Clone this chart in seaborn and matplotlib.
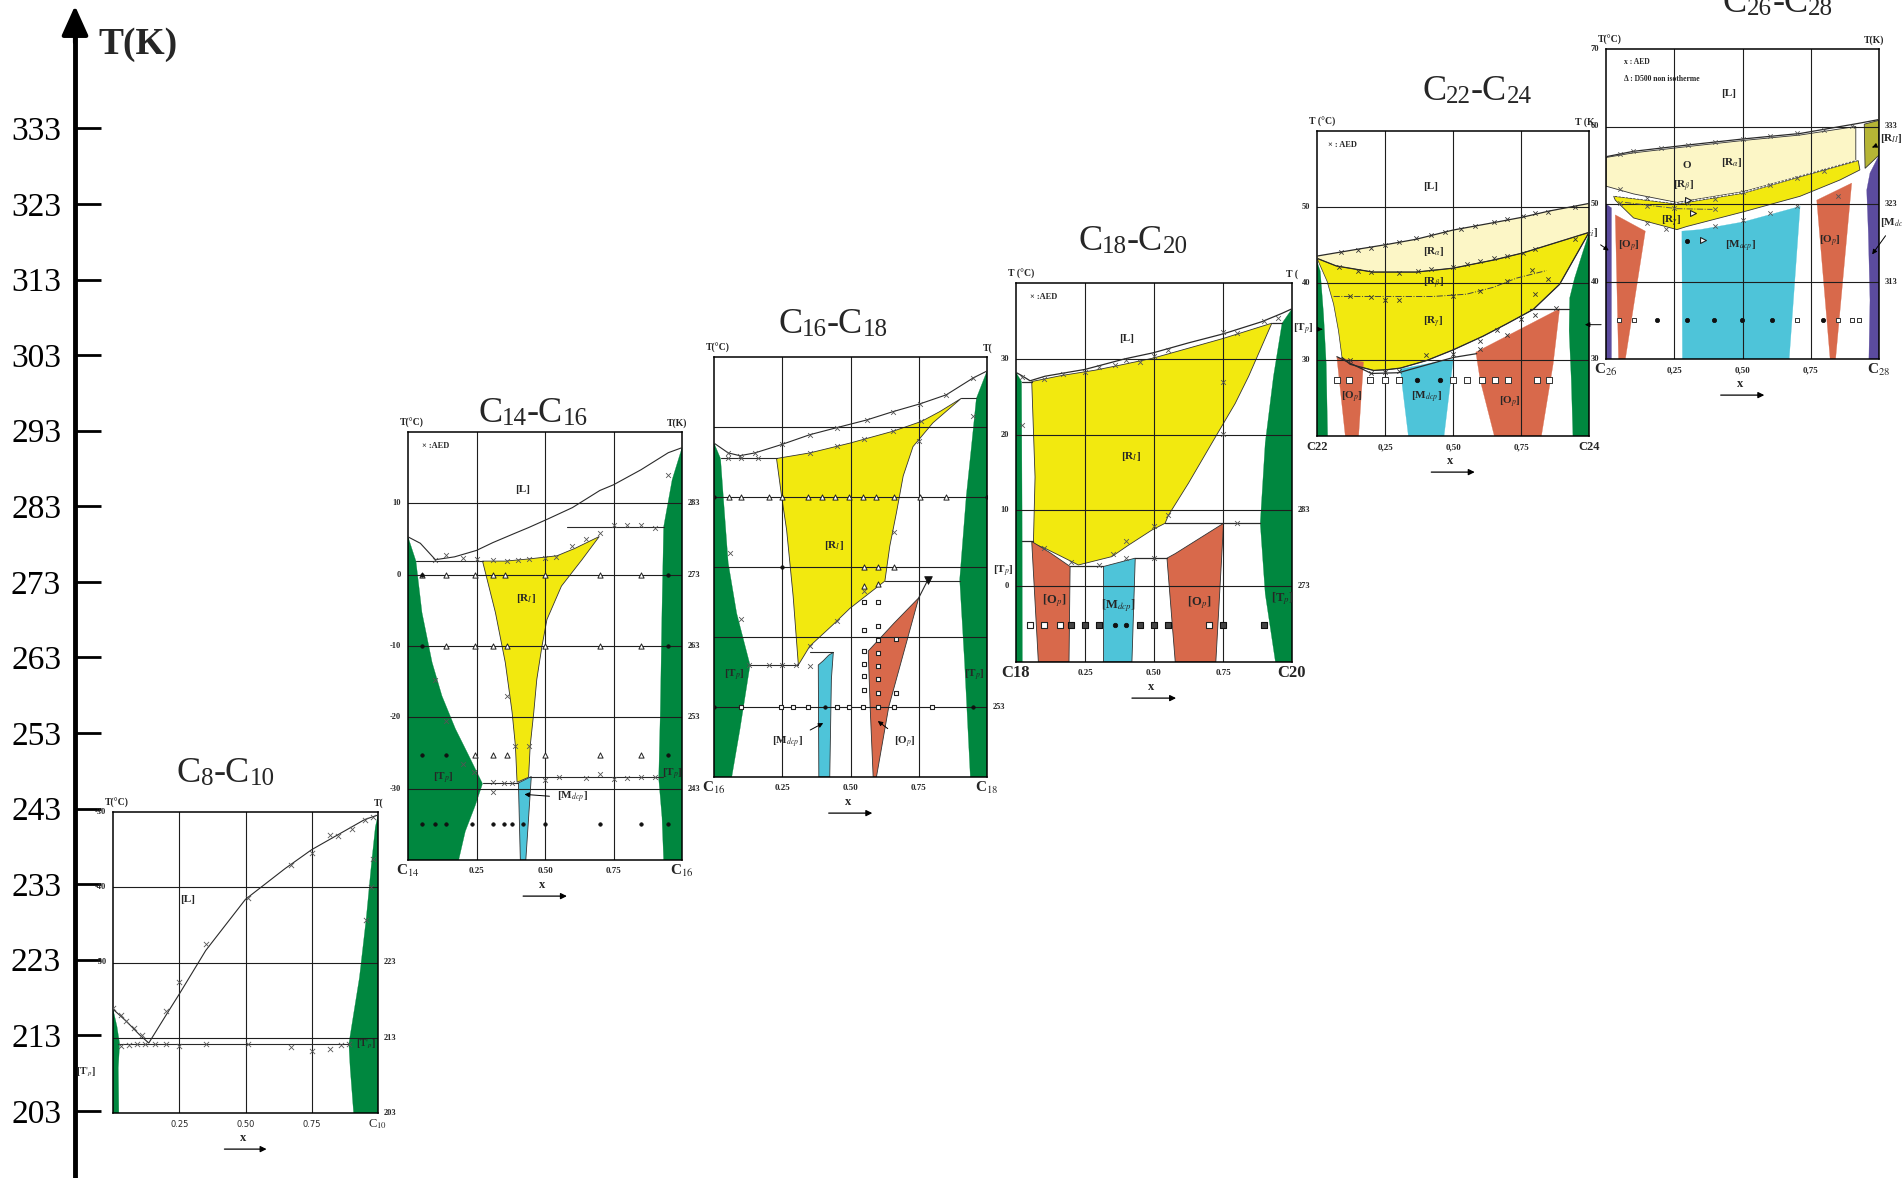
import matplotlib
matplotlib.use("Agg")
import matplotlib.pyplot as plt
from matplotlib.transforms import offset_copy
from matplotlib.patches import Rectangle
import seaborn as sns

sns.set_theme(style="white")
plt.rcParams["font.family"] = ["Liberation Serif", "DejaVu Serif"]
plt.rcParams["mathtext.fontset"] = "stix"

W, H, DPI = 1902, 1178, 100

# ---------------- main temperature scale (K) ----------------
K_TICKS = [203, 213, 223, 233, 243, 253, 263, 273, 283, 293, 303, 313, 323, 333]
K_LIMITS = (194.1, 350.0)

GREEN = "#00873f"
YELLOW = "#f2e90f"
PALE = "#fcf6c6"
CYAN = "#4ec4d9"
ORANGE = "#d8694b"
PURPLE = "#5b4b9e"
OLIVE = "#b6b535"

# ---------------- C8-C10 (T in degC, x = mole fraction) ----------------
C8_LIQUIDUS = [(0, -56.2), (0.05, -57.8), (0.10, -59.6), (0.135, -60.7), (0.20, -57.0),
               (0.25, -54.2), (0.35, -48.4), (0.50, -41.6), (0.65, -37.5), (0.75, -35.0),
               (0.85, -33.0), (0.95, -31.0), (1.0, -30.4)]
C8_EUTECTIC = [(0.02, -60.8), (0.89, -60.8)]
C8_SS_LEFT = [(0, -56.2), (0.015, -58.5), (0.025, -60.8), (0.02, -64), (0.022, -70), (0, -70)]
C8_SS_RIGHT = [(1.0, -30.4), (0.99, -32), (0.975, -37), (0.956, -44), (0.93, -52),
               (0.89, -60.8), (0.895, -64), (0.908, -70), (1.0, -70)]
C8_CROSSES = [(0, -56.0), (0.03, -57.0), (0.05, -57.8), (0.08, -58.7), (0.11, -59.6),
              (0.20, -56.4), (0.25, -52.6), (0.35, -47.5), (0.51, -41.4), (0.67, -37.0),
              (0.75, -35.5), (0.82, -33.0), (0.85, -33.2), (0.90, -32.3), (0.95, -31.0),
              (0.98, -30.6), (0.03, -61.1), (0.06, -60.9), (0.09, -60.8), (0.12, -60.8),
              (0.16, -60.8), (0.20, -60.8), (0.25, -61.1), (0.35, -60.8), (0.51, -60.8),
              (0.67, -61.2), (0.75, -61.7), (0.82, -61.5), (0.86, -61.0), (0.89, -60.8),
              (0.98, -36.3), (0.975, -40.0), (0.955, -44.3)]
C8_NOTES = [("[L]", 0.28, -41.6, 8, "center"), ("[T$'_p$]", 0.955, -60.9, 7, "center"),
            ("[T$'_p$]", -0.10, -64.6, 7, "center")]
C8_LEFT = [-30, -40, -50]
C8_RIGHT = [(-50, "223"), (-60, "213"), (-70, "203")]
C8_BOTTOM = [(0.25, "0.25"), (0.5, "0.50"), (0.75, "0.75"), (1.0, "C$_{10}$")]

# ---------------- C14-C16 ----------------
C14_LIQUIDUS = [(0, 5.3), (0.045, 4.4), (0.10, 2.1), (0.17, 2.5), (0.25, 3.4), (0.31, 4.5),
                (0.39, 5.8), (0.44, 6.6), (0.51, 7.8), (0.60, 9.4), (0.70, 11.8), (0.75, 12.6),
                (0.85, 14.7), (0.95, 17.1), (1.0, 17.8)]
C14_EUTECTIC = [(0.03, 1.9), (0.272, 1.9)]
C14_PERITECTIC = [(0.58, 6.7), (0.933, 6.7)]
C14_LOW_A = [(0.272, -29.2), (0.40, -29.2)]
C14_LOW_B = [(0.44, -28.3), (0.93, -28.3)]
C14_RI = [(0.272, 1.9), (0.355, 1.9), (0.44, 2.2), (0.544, 2.65), (0.61, 3.7), (0.698, 5.35),
          (0.635, 2.1), (0.56, -1.6), (0.507, -6.3), (0.489, -10), (0.47, -14.7), (0.459, -19.3),
          (0.446, -24), (0.44, -28.4), (0.398, -29.1), (0.392, -24), (0.38, -19.3),
          (0.355, -12.3), (0.319, -5.3)]
C14_MDCP = [(0.403, -29.2), (0.45, -28.3), (0.43, -40), (0.41, -40)]
C14_SS_LEFT = [(0, 5.3), (0.029, 1.9), (0.051, -5.3), (0.088, -12.3), (0.124, -17),
               (0.173, -21.6), (0.221, -25.3), (0.272, -29.3), (0.246, -32.3), (0.209, -36),
               (0.185, -40), (0, -40)]
C14_SS_RIGHT = [(1, 17.8), (0.964, 13.3), (0.933, 6.7), (0.927, -5), (0.921, -19),
                (0.915, -28.6), (0.927, -34), (0.933, -40), (1, -40)]
C14_CROSSES = [(0.1, 2.0), (0.14, 2.8), (0.2, 2.4), (0.25, 2.2), (0.31, 2.0), (0.36, 1.9),
               (0.4, 2.0), (0.44, 2.2), (0.5, 2.4), (0.54, 2.5), (0.6, 4.0), (0.65, 5.0),
               (0.7, 5.8), (0.75, 6.9), (0.8, 7.0), (0.85, 6.9), (0.9, 6.5), (0.95, 14.0),
               (0.1, -14.8), (0.14, -20.5), (0.36, -17), (0.39, -24), (0.44, -24),
               (0.2, -26.5), (0.24, -27.6), (0.31, -29.0), (0.35, -29.2), (0.38, -29.2),
               (0.5, -28.8), (0.55, -28.3), (0.65, -28.5), (0.7, -28.0), (0.75, -28.6),
               (0.8, -28.5), (0.85, -28.3), (0.9, -28.4), (0.31, -30.5)]
C14_TRIANGLES = [(0.05, 0), (0.14, 0), (0.245, 0), (0.31, 0), (0.355, 0), (0.5, 0), (0.7, 0),
                 (0.85, 0), (0.14, -10), (0.245, -10), (0.31, -10), (0.36, -10), (0.5, -10),
                 (0.7, -10), (0.85, -10), (0.245, -25.3), (0.31, -25.3), (0.36, -25.3),
                 (0.5, -25.3), (0.7, -25.3), (0.85, -25.3)]
C14_DOTS = [(0.05, -25.3), (0.14, -25.3), (0.95, -25.3), (0.05, -34.9), (0.1, -34.9),
            (0.14, -34.9), (0.235, -34.9), (0.31, -34.9), (0.35, -34.9), (0.38, -34.9),
            (0.42, -34.9), (0.5, -34.9), (0.7, -34.9), (0.85, -34.9), (0.95, -34.9),
            (0.05, 0), (0.95, 0), (0.05, -10), (0.95, -10)]
C14_NOTES = [("\u00d7 :AED", 0.05, 18.1, 6, "left"), ("[L]", 0.42, 11.9, 8, "center"),
             ("[R$_I$]", 0.43, -3.3, 8, "center"), ("[T$_p$]", 0.13, -28.6, 8, "center"),
             ("[T$_p$]", 0.965, -28.0, 8, "center")]
C14_POINTERS = [("[M$_{dcp}$]", 0.6, -31.3, 0.425, -30.8, "center")]
C14_LEFT = [10, 0, -10, -20, -30]
C14_RIGHT = [(10, "283"), (0, "273"), (-10, "263"), (-20, "253"), (-30, "243")]
C14_BOTTOM = [(0, "C$_{14}$"), (0.25, "0.25"), (0.5, "0.50"), (0.75, "0.75"), (1.0, "C$_{16}$")]

# ---------------- C16-C18 ----------------
C16_LIQUIDUS = [(0, 17.7), (0.052, 16.3), (0.095, 15.9), (0.15, 16.3), (0.248, 17.5),
                (0.351, 18.9), (0.449, 19.9), (0.559, 21.0), (0.656, 22.2), (0.754, 23.3),
                (0.851, 24.6), (0.949, 27.0), (1.0, 28.0)]
C16_EUTECTIC = [(0.024, 15.5), (0.229, 15.5)]
C16_PERITECTIC = [(0.906, 24.1), (0.961, 24.1)]
C16_RI = [(0.229, 15.5), (0.351, 16.3), (0.498, 17.7), (0.656, 19.4), (0.76, 20.8),
          (0.827, 22.2), (0.906, 24.1), (0.802, 20.6), (0.729, 17.2), (0.693, 13.0),
          (0.668, 7.7), (0.644, 3.0), (0.626, -2.0), (0.498, -5.9), (0.437, -8.2),
          (0.351, -11.3), (0.309, -14.0), (0.29, -4.2), (0.266, 5.3), (0.248, 10.0)]
C16_LINE_A = [(0.626, -2.0), (0.90, -2.0)]
C16_LINE_B = [(0.132, -14.0), (0.309, -14.0)]
C16_LINE_C = [(0.351, -12.2), (0.437, -12.2)]
C16_MDCP = [(0.382, -14.0), (0.40, -13.4), (0.42, -12.6), (0.437, -12.2), (0.43, -16.0),
            (0.424, -30.0), (0.384, -30.0)]
C16_OP = [(0.565, -12.0), (0.66, -8.0), (0.75, -4.4), (0.64, -20.0), (0.595, -30.0),
          (0.583, -30.0), (0.572, -20.0)]
C16_OP_TIE = [(0.75, -4.4), (0.784, -1.8)]
C16_SS_LEFT = [(0, 17.7), (0.024, 15.5), (0.034, 10.1), (0.052, 0.6), (0.083, -6.6),
               (0.132, -14.0), (0.095, -23.2), (0.065, -30.0), (0, -30.0)]
C16_SS_RIGHT = [(1.0, 28.0), (0.961, 24.1), (0.943, 17.2), (0.924, 10.1), (0.90, -1.8),
                (0.918, -13.7), (0.939, -30.0), (1.0, -30.0)]
C16_CROSSES = [(0.052, 16.3), (0.095, 15.9), (0.15, 16.3), (0.248, 17.5), (0.351, 18.9),
               (0.449, 19.9), (0.559, 21.0), (0.656, 22.2), (0.754, 23.3), (0.851, 24.6),
               (0.949, 27.0), (0.05, 15.5), (0.1, 15.5), (0.16, 15.5), (0.35, 16.3),
               (0.45, 17.3), (0.55, 18.3), (0.656, 19.4), (0.76, 20.8), (0.95, 21.5),
               (0.06, 2.0), (0.1, -7.5), (0.66, 5.0), (0.75, 18.0), (0.55, -3.5),
               (0.45, -7.7), (0.35, -11.3), (0.13, -14.0), (0.2, -14.0), (0.25, -14.0),
               (0.3, -14.0), (0.35, -14.2)]
C16_TRIANGLES = [(0.055, 10), (0.1, 10), (0.2, 10), (0.25, 10), (0.345, 10), (0.395, 10),
                 (0.445, 10), (0.495, 10), (0.545, 10), (0.595, 10), (0.66, 10),
                 (0.755, 10), (0.85, 10), (0.55, 0), (0.6, 0), (0.66, 0), (0.55, -2.7),
                 (0.6, -2.4)]
C16_SQUARES = [(0.55, -5), (0.55, -9), (0.55, -12), (0.55, -13.8), (0.55, -15.6),
               (0.55, -17.6), (0.6, -5), (0.6, -8.5), (0.6, -10.5), (0.6, -12.3),
               (0.6, -14.1), (0.6, -16.0), (0.6, -18.0), (0.665, -10.3), (0.665, -18.0),
               (0.1, -20), (0.245, -20), (0.29, -20), (0.345, -20), (0.45, -20),
               (0.495, -20), (0.545, -20), (0.6, -20), (0.66, -20), (0.8, -20)]
C16_DOTS = [(0.0, -20), (0.405, -20), (0.95, -20), (0.25, 0), (0.0, 10), (1.0, 10)]
C16_NOTES = [("[R$_I$]", 0.44, 3.0, 8, "center"), ("[T$_p$]", 0.075, -15.5, 8, "center"),
             ("[T$_p$]", 0.955, -15.5, 8, "center")]
C16_POINTERS = [("[M$_{dcp}$]", 0.27, -25.0, 0.40, -22.3, "center"),
                ("[O$_p$]", 0.70, -25.0, 0.60, -22.0, "center")]
C16_LEFT = []
C16_RIGHT = [(-20, "253")]
C16_BOTTOM = [(0, "C$_{16}$"), (0.25, "0.25"), (0.5, "0.50"), (0.75, "0.75"), (1.0, "C$_{18}$")]

# ---------------- C18-C20 ----------------
C18_LIQUIDUS = [(0, 28.2), (0.02, 27.8), (0.051, 27.1), (0.105, 27.7), (0.25, 28.6),
                (0.395, 30.0), (0.498, 30.8), (0.625, 32.1), (0.752, 33.3), (0.891, 34.9),
                (0.964, 36.0), (1.0, 36.6)]
C18_EUTECTIC = [(0.02, 27.0), (0.057, 27.0)]
C18_PERITECTIC = [(0.927, 34.7), (0.964, 34.7)]
C18_RI = [(0.057, 27.0), (0.166, 27.8), (0.287, 28.5), (0.395, 29.3), (0.498, 30.1),
          (0.625, 31.4), (0.752, 32.7), (0.927, 34.7), (0.843, 27.7), (0.794, 24.1),
          (0.71, 18.9), (0.625, 13.6), (0.553, 9.4), (0.54, 8.3), (0.492, 7.4),
          (0.407, 5.4), (0.347, 3.9), (0.226, 2.8), (0.166, 3.9), (0.105, 5.0),
          (0.063, 5.6), (0.069, 14.4)]
C18_LINE_A = [(0.54, 8.3), (0.885, 8.3)]
C18_LINE_B = [(0.02, 5.9), (0.063, 5.9)]
C18_LINE_C = [(0.196, 2.6), (0.317, 2.6)]
C18_LINE_D = [(0.432, 3.7), (0.547, 3.7)]
C18_OP_LEFT = [(0.057, 5.9), (0.12, 4.5), (0.196, 2.6), (0.192, -10), (0.081, -10)]
C18_MDCP = [(0.317, 2.6), (0.432, 3.7), (0.42, -10), (0.317, -10)]
C18_OP_RIGHT = [(0.547, 3.7), (0.577, 4.3), (0.752, 8.3), (0.724, -10), (0.577, -10)]
C18_SS_LEFT = [(0, 28.2), (0.02, 27.0), (0.022, 10), (0.023, -10), (0, -10)]
C18_SS_RIGHT = [(1.0, 36.6), (0.964, 34.7), (0.933, 27.7), (0.903, 18.9), (0.885, 8.3),
                (0.903, -1.0), (0.94, -10), (1.0, -10)]
C18_CROSSES = [(0.02, 27.6), (0.1, 27.4), (0.17, 28.0), (0.25, 28.2), (0.3, 28.9),
               (0.36, 29.2), (0.4, 29.8), (0.45, 29.6), (0.5, 30.4), (0.55, 31.2),
               (0.75, 33.5), (0.8, 33.4), (0.9, 35.0), (0.95, 35.4), (0.02, 21.3),
               (0.75, 27.0), (0.75, 20.1), (0.55, 9.4), (0.5, 8.0), (0.4, 6.0), (0.35, 4.2),
               (0.3, 2.8), (0.2, 3.2), (0.1, 5.0), (0.4, 3.7), (0.5, 3.7), (0.8, 8.3)]
C18_OPEN_SQ = [(0.05, -5.1), (0.1, -5.1), (0.16, -5.1), (0.7, -5.1)]
C18_DARK_SQ = [(0.2, -5.1), (0.25, -5.1), (0.3, -5.1), (0.45, -5.1), (0.5, -5.1),
               (0.55, -5.1), (0.75, -5.1), (0.9, -5.1)]
C18_DOTS = [(0.36, -5.1), (0.4, -5.1)]
C18_NOTES = [("\u00d7 :AED", 0.05, 38.2, 6, "left"), ("[L]", 0.4, 32.7, 8, "center"),
             ("[R$_I$]", 0.415, 17.1, 8, "center"), ("[O$_p$]", 0.14, -1.9, 9, "center"),
             ("[M$_{dcp}$]", 0.37, -2.5, 9, "center"), ("[O$_p$]", 0.665, -2.2, 9, "center"),
             ("[T$_p$]", 0.965, -1.7, 9, "center"), ("[T$_p$]", -0.045, 1.9, 8, "center")]
C18_POINTERS = []
C18_LEFT = [30, 20, 10, 0]
C18_RIGHT = [(10, "283"), (0, "273")]
C18_BOTTOM = [(0, "C18"), (0.25, "0.25"), (0.5, "0.50"), (0.75, "0.75"), (1.0, "C20")]

# ---------------- C22-C24 ----------------
C22_LIQUIDUS = [(0, 43.6), (0.15, 44.5), (0.254, 45.1), (0.364, 45.8), (0.499, 47.0),
                (0.652, 48.0), (0.756, 48.7), (0.853, 49.5), (1.0, 50.5)]
C22_RA_LOW = [(0, 43.3), (0.071, 42.3), (0.205, 41.5), (0.364, 41.5), (0.499, 42.0),
              (0.652, 43.1), (0.756, 44.0), (1.0, 46.7)]
C22_YELLOW_LOW = [(0.092, 30.3), (0.122, 29.4), (0.208, 28.6), (0.257, 28.7), (0.306, 28.9),
                  (0.403, 29.9), (0.501, 31.3), (0.611, 33.1), (0.697, 34.7), (0.795, 36.6),
                  (0.892, 39.9), (1.0, 46.7)]
C22_YELLOW_LEFT = [(0.092, 30.3), (0.079, 33.8), (0.061, 37.3), (0.037, 40.3), (0, 43.3)]
C22_DASHDOT = [(0.061, 38.3), (0.183, 38.3), (0.306, 38.3), (0.428, 38.3), (0.55, 38.6),
               (0.648, 39.5), (0.733, 40.7), (0.844, 41.7)]
C22_LOWER = [(0.073, 30.4), (0.2, 28.2), (0.3, 28.3), (0.501, 30.3), (0.587, 30.8)]
C22_LINE_A = [(0.782, 36.7), (0.927, 36.7)]
C22_OP_LEFT = [(0.073, 30.3), (0.171, 29.7), (0.153, 20), (0.104, 20)]
C22_MDCP = [(0.306, 28.8), (0.501, 30.1), (0.467, 20), (0.336, 20)]
C22_OP_RIGHT = [(0.584, 31.0), (0.892, 36.7), (0.868, 29.4), (0.825, 20), (0.652, 20), (0.6, 27.3)]
C22_SS_LEFT = [(0, 42.9), (0.012, 41.6), (0.024, 36.0), (0.034, 29.4), (0.039, 20), (0, 20)]
C22_SS_RIGHT = [(1.0, 46.6), (0.978, 44.2), (0.947, 40.7), (0.929, 38.1), (0.927, 33.8),
                (0.935, 27.3), (0.941, 20), (1.0, 20)]
C22_CROSSES = [(0.087, 44.1), (0.15, 44.4), (0.2, 44.6), (0.25, 45.0), (0.3, 45.4),
               (0.364, 46.0), (0.42, 46.4), (0.47, 46.8), (0.53, 47.2), (0.58, 47.5),
               (0.65, 48.0), (0.7, 48.4), (0.756, 48.8), (0.8, 49.2), (0.85, 49.4),
               (0.95, 50.0), (0.08, 42.1), (0.15, 41.7), (0.2, 41.5), (0.3, 41.4),
               (0.37, 41.6), (0.42, 41.9), (0.5, 42.2), (0.55, 42.5), (0.6, 42.9),
               (0.65, 43.3), (0.7, 43.6), (0.756, 44.0), (0.8, 44.5), (0.95, 45.8),
               (0.12, 38.3), (0.2, 38.2), (0.25, 37.9), (0.3, 37.8), (0.5, 38.3),
               (0.6, 39.0), (0.7, 40.3), (0.79, 41.8), (0.85, 40.6), (0.8, 38.6),
               (0.12, 30.0), (0.2, 28.3), (0.25, 28.4), (0.3, 28.5), (0.4, 30.6),
               (0.5, 30.7), (0.6, 31.4), (0.66, 33.9), (0.7, 33.3), (0.6, 32.4),
               (0.75, 35.4), (0.8, 35.9), (0.88, 36.8)]
C22_OPEN_SQ = [(0.073, 27.3), (0.116, 27.3), (0.196, 27.3), (0.251, 27.3), (0.3, 27.3),
               (0.501, 27.3), (0.55, 27.3), (0.605, 27.3), (0.654, 27.3), (0.703, 27.3),
               (0.807, 27.3), (0.853, 27.3)]
C22_DOTS = [(0.367, 27.3), (0.452, 27.3)]
C22_NOTES = [("\u00d7 : AED", 0.04, 58.1, 6, "left"), ("[L]", 0.416, 52.7, 8, "center"),
             ("[R$_\\alpha$]", 0.428, 44.2, 8, "center"), ("[R$_\\beta$]", 0.428, 40.0, 8, "center"),
             ("[R$_\\gamma$]", 0.428, 34.9, 8, "center"), ("[O$_p$]", 0.128, 25.0, 8, "center"),
             ("[M$_{dcp}$]", 0.403, 25.1, 8, "center"), ("[O$_p$]", 0.709, 24.4, 8, "center")]
C22_POINTERS = [("[T$_p$]", -0.012, 34.0, 0.02, 34.0, "right"),
                ("", 1.06, 34.6, 0.985, 34.6, "center")]
C22_LEFT = [50, 40, 30]
C22_RIGHT = []
C22_BOTTOM = [(0, "C22"), (0.25, "0,25"), (0.5, "0,50"), (0.75, "0,75"), (1.0, "C24")]

# ---------------- C26-C28 ----------------
C26_LIQUIDUS = [(0, 56.1), (0.101, 56.8), (0.296, 57.6), (0.504, 58.4), (0.711, 59.1),
                (0.924, 60.4), (1.0, 60.9)]
C26_PALE = [(0, 56.0), (0.101, 56.6), (0.296, 57.4), (0.504, 58.2), (0.711, 58.9),
            (0.915, 60.0), (0.915, 55.6), (0.711, 53.6), (0.504, 51.6), (0.26, 50.2),
            (0.101, 51.3), (0, 52.3)]
C26_YELLOW = [(0.028, 51.0), (0.26, 50.0), (0.504, 51.4), (0.711, 53.5), (0.924, 55.6),
              (0.93, 54.4), (0.857, 53.1), (0.711, 51.0), (0.504, 49.0), (0.296, 47.1),
              (0.26, 46.7), (0.101, 48.2), (0.034, 50.5)]
C26_YELLOW_TOP = [(0.028, 51.1), (0.26, 50.1), (0.504, 51.5), (0.711, 53.6), (0.924, 55.7)]
C26_OLIVE = [(0.946, 60.3), (1.0, 60.8), (1.0, 56.3), (0.949, 54.6)]
C26_DASHDOT = [(0.07, 50.2), (0.26, 49.4), (0.39, 49.3)]
C26_OP_LEFT = [(0.034, 48.6), (0.144, 46.5), (0.071, 30), (0.046, 30)]
C26_MDCP = [(0.278, 46.5), (0.345, 46.7), (0.504, 47.7), (0.711, 49.7), (0.671, 30), (0.28, 30)]
C26_OP_RIGHT = [(0.772, 50.5), (0.9, 52.7), (0.841, 30), (0.821, 30)]
C26_MDCI_LEFT = [(0, 50.0), (0.02, 49.5), (0.02, 30), (0, 30)]
C26_MDCI_RIGHT = [(1.0, 56.3), (0.967, 54.0), (0.955, 51.8), (0.961, 46.2), (0.967, 37.6),
                  (0.963, 30), (1.0, 30)]
C26_CROSSES = [(0.05, 56.4), (0.1, 56.8), (0.2, 57.2), (0.3, 57.6), (0.4, 58.0), (0.5, 58.4),
               (0.6, 58.8), (0.7, 59.1), (0.8, 59.6), (0.9, 60.1), (0.05, 51.9), (0.15, 50.8),
               (0.3, 50.1), (0.4, 50.7), (0.5, 51.5), (0.6, 52.4), (0.7, 53.3), (0.8, 54.3),
               (0.05, 50.1), (0.15, 49.8), (0.25, 49.5), (0.4, 49.3), (0.15, 47.6),
               (0.22, 46.8), (0.4, 47.1), (0.5, 47.9), (0.6, 48.8), (0.7, 49.8), (0.85, 51.0)]
C26_DARK = [(0.187, 35), (0.296, 35), (0.396, 35), (0.498, 35), (0.607, 35), (0.796, 35),
            (0.296, 45.2)]
C26_OPEN_SQ = [(0.046, 35), (0.101, 35), (0.699, 35), (0.851, 35), (0.9, 35), (0.927, 35)]
C26_OPEN_TRI = [(0.3, 50.5), (0.32, 48.8), (0.355, 45.3)]
C26_NOTES = [("x : AED", 0.065, 68.3, 5.5, "left"),
             ("\u0394 : D500 non isotherme", 0.065, 66.1, 5.5, "left"),
             ("[L]", 0.449, 64.2, 8, "center"), ("O", 0.296, 55.0, 8, "center"),
             ("[R$_\\alpha$]", 0.46, 55.4, 8, "center"), ("[R$_\\beta$]", 0.284, 52.3, 8, "center"),
             ("[R$_\\gamma$]", 0.24, 47.7, 8, "center"), ("[O$_p$]", 0.083, 44.5, 8, "center"),
             ("[M$_{dcp}$]", 0.491, 44.5, 8, "center"), ("[O$_p$]", 0.821, 45.2, 8, "center")]
C26_POINTERS = [("[R$_{II}$]", 1.005, 58.4, 0.975, 57.3, "left"),
                ("[M$_{dci}$]", 1.005, 47.6, 0.975, 43.5, "left"),
                ("[M$_{dci}$]", -0.03, 46.3, 0.01, 44.0, "right")]
C26_LEFT = [70, 60, 50, 40, 30]
C26_RIGHT = [(60, "333"), (50, "323"), (40, "313")]
C26_BOTTOM = [(0, "C$_{26}$"), (0.25, "0,25"), (0.5, "0,50"), (0.75, "0,75"), (1.0, "C$_{28}$")]

# ---------------- figure ----------------
fig = plt.figure(figsize=(W / DPI, H / DPI), dpi=DPI)
fig.patch.set_facecolor("white")

# main Kelvin axis
ax0 = fig.add_axes([75 / W, 0, 0.5, 1], zorder=0)
ax0.patch.set_alpha(0)
ax0.set_ylim(*K_LIMITS)
ax0.set_xlim(0, 1)
for s in ("top", "right", "bottom"):
    ax0.spines[s].set_visible(False)
ax0.spines["left"].set_color("black")
ax0.spines["left"].set_linewidth(3.5)
ax0.spines["left"].set_bounds(K_LIMITS[0], 346.0)
ax0.set_xticks([])
ax0.set_yticks(K_TICKS)
ax0.set_yticklabels([str(k) for k in K_TICKS])
ax0.tick_params(axis="y", direction="in", length=19, width=2, labelsize=24, pad=10,
                colors="black", left=True)
ax0.annotate("", xy=(0, 349.6), xytext=(0, 344.0), xycoords="data",
             arrowprops=dict(arrowstyle="-|>,head_length=1.0,head_width=0.45",
                             color="black", lw=3, mutation_scale=18))
fig.text(98 / W, 1 - 45 / H, "T(K)", fontsize=27, fontweight="bold", va="center", ha="left")


def xy(points):
    xs, ts = zip(*points)
    return list(xs), list(ts)


def region(ax, points, color, edge=True):
    xs, ts = xy(points)
    ax.fill(xs, ts, facecolor=color, edgecolor="#333333" if edge else color,
            lw=0.6 if edge else 0.2, zorder=1)


def curve(ax, points, lw=0.9, color="#2a2a2a", ls="-"):
    xs, ts = xy(points)
    sns.lineplot(x=xs, y=ts, ax=ax, sort=False, estimator=None, color=color,
                 lw=lw, linestyle=ls, zorder=3)


def marks(ax, points, marker="x", size=12, face="#444444", edge="#222222", lw=0.6):
    xs, ts = xy(points)
    if marker in ("x", "+"):
        sns.scatterplot(x=xs, y=ts, ax=ax, marker=marker, s=size, color=face,
                        linewidth=lw, zorder=4)
    else:
        sns.scatterplot(x=xs, y=ts, ax=ax, marker=marker, s=size, color=face,
                        edgecolor=edge, linewidth=lw, zorder=4)


def make_panel(box, trange, z):
    left, right, top, bottom = box
    ax = fig.add_axes([left / W, 1 - bottom / H, (right - left) / W, (bottom - top) / H], zorder=z)
    ax.set_facecolor("white")
    ax.set_xlim(0, 1)
    ax.set_ylim(*trange)
    return ax


def finish(ax, trange, left, right, bottom, notes, pointers, tc="T(\u00b0C)", tk="T(K)",
           bottom_size=6.5, end_size=11, sans=False):
    lo, hi = trange
    ax.set_xlim(0, 1)
    ax.set_ylim(lo, hi)
    ax.set_xticks([])
    ax.set_yticks([])
    ax.set_xlabel("")
    ax.set_ylabel("")
    ax.grid(False)
    for sp in ax.spines.values():
        sp.set_visible(True)
        sp.set_color("black")
        sp.set_linewidth(1.1)
    for xg in (0.25, 0.5, 0.75):
        ax.axvline(xg, color="#1e1e1e", lw=0.8, zorder=2)
    tg = lo + 10
    while tg < hi:
        ax.axhline(tg, color="#1e1e1e", lw=0.8, zorder=2)
        tg += 10
    yax = ax.get_yaxis_transform()
    for t in left:
        ax.text(-0.025, t, str(t), transform=yax, ha="right", va="center",
                fontsize=6, fontweight="bold")
    for t, lab in right:
        ax.text(1.02, t, lab, transform=yax, ha="left", va="center",
                fontsize=6, fontweight="bold")
    ax.text(-0.03, 1.0, tc, transform=offset_copy(ax.transAxes, fig=fig, y=3, units="points"),
            ha="left", va="bottom", fontsize=7, fontweight="bold")
    ax.text(1.02, 1.0, tk, transform=offset_copy(ax.transAxes, fig=fig, y=3, units="points"),
            ha="right", va="bottom", fontsize=7, fontweight="bold")
    below = offset_copy(ax.get_xaxis_transform(), fig=fig, y=-8, units="points")
    for xv, lab in bottom:
        is_end = xv in (0, 1.0)
        ax.text(xv, 0, lab, transform=below, ha="center", va="center",
                fontsize=end_size if is_end else bottom_size,
                fontweight="normal" if sans else "bold",
                family=["DejaVu Sans"] if (sans and not is_end) else None)
    ax.text(0.49, 0, "x", transform=offset_copy(ax.transAxes, fig=fig, y=-18, units="points"),
            ha="center", va="center", fontsize=9, fontweight="bold")
    arr = offset_copy(ax.transAxes, fig=fig, y=-26, units="points")
    ax.annotate("", xy=(0.59, 0), xytext=(0.41, 0), xycoords=arr, textcoords=arr,
                arrowprops=dict(arrowstyle="-|>", color="black", lw=0.9, mutation_scale=9))
    for txt, xv, tv, size, ha in notes:
        ax.text(xv, tv, txt, ha=ha, va="center", fontsize=size, fontweight="bold", zorder=5)
    for txt, xt, tt, xa, ta, ha in pointers:
        ax.annotate(txt, xy=(xa, ta), xytext=(xt, tt), fontsize=8, fontweight="bold",
                    ha=ha, va="center", zorder=5, annotation_clip=False,
                    arrowprops=dict(arrowstyle="-|>", color="black", lw=0.7, mutation_scale=7,
                                    shrinkA=3, shrinkB=0))


def title(x_px, base_px, parts):
    big, small = 26, 18
    prev = ax0.annotate(parts[0], xy=(x_px / W, 1 - base_px / H), xycoords="figure fraction",
                        fontsize=big, ha="left", va="bottom", annotation_clip=False)
    for i, p in enumerate(parts[1:], 1):
        prev = ax0.annotate(p, xy=(1, 0), xycoords=prev, fontsize=small if i % 2 else big,
                            ha="left", va="bottom", annotation_clip=False)


# ---- C8-C10 ----
T1 = (-70, -30)
ax1 = make_panel((113, 378, 812, 1113), T1, 2)
region(ax1, C8_SS_LEFT, GREEN, edge=False)
region(ax1, C8_SS_RIGHT, GREEN, edge=False)
curve(ax1, C8_LIQUIDUS, lw=0.8)
curve(ax1, C8_EUTECTIC, lw=0.8)
marks(ax1, C8_CROSSES, size=14, face="#555555")
finish(ax1, T1, C8_LEFT, C8_RIGHT, C8_BOTTOM, C8_NOTES, [], tk="T(", sans=True,
       bottom_size=6, end_size=9)
title(177, 790, ["C", "8", "-C", "10"])

# ---- C14-C16 ----
T2 = (-40, 20)
ax2 = make_panel((408, 682, 432, 860), T2, 3)
region(ax2, C14_SS_LEFT, GREEN, edge=False)
region(ax2, C14_SS_RIGHT, GREEN, edge=False)
region(ax2, C14_RI, YELLOW)
region(ax2, C14_MDCP, CYAN)
for line in (C14_LIQUIDUS, C14_EUTECTIC, C14_PERITECTIC, C14_LOW_A, C14_LOW_B):
    curve(ax2, line, lw=0.8)
marks(ax2, C14_CROSSES, size=12, face="#555555")
marks(ax2, C14_TRIANGLES, marker="^", size=14, face="white", edge="#222222", lw=0.7)
marks(ax2, C14_DOTS, marker="o", size=6, face="#111111", edge="#111111")
finish(ax2, T2, C14_LEFT, C14_RIGHT, C14_BOTTOM, C14_NOTES, C14_POINTERS)
title(478, 430, ["C", "14", "-C", "16"])

# ---- C16-C18 ----
T3 = (-30, 30)
ax3 = make_panel((714, 987, 357, 777), T3, 4)
region(ax3, C16_SS_LEFT, GREEN, edge=False)
region(ax3, C16_SS_RIGHT, GREEN, edge=False)
region(ax3, C16_RI, YELLOW)
region(ax3, C16_MDCP, CYAN)
region(ax3, C16_OP, ORANGE)
for line in (C16_LIQUIDUS, C16_EUTECTIC, C16_PERITECTIC, C16_LINE_A, C16_LINE_B,
             C16_LINE_C, C16_OP_TIE):
    curve(ax3, line, lw=0.8)
marks(ax3, C16_CROSSES, size=12, face="#555555")
marks(ax3, C16_TRIANGLES, marker="^", size=14, face="white", edge="#222222", lw=0.7)
marks(ax3, C16_SQUARES, marker="s", size=12, face="white", edge="#222222", lw=0.8)
marks(ax3, C16_DOTS, marker="o", size=6, face="#111111", edge="#111111")
marks(ax3, [C16_OP_TIE[-1]], marker="v", size=30, face="#111111", edge="#111111")
finish(ax3, T3, C16_LEFT, C16_RIGHT, C16_BOTTOM, C16_NOTES, C16_POINTERS, tk="T(")
title(778, 341, ["C", "16", "-C", "18"])

# ---- C18-C20 ----
T4 = (-10, 40)
ax4 = make_panel((1016, 1292, 283, 662), T4, 5)
region(ax4, C18_SS_LEFT, GREEN, edge=False)
region(ax4, C18_SS_RIGHT, GREEN, edge=False)
region(ax4, C18_RI, YELLOW)
region(ax4, C18_OP_LEFT, ORANGE)
region(ax4, C18_MDCP, CYAN)
region(ax4, C18_OP_RIGHT, ORANGE)
for line in (C18_LIQUIDUS, C18_EUTECTIC, C18_PERITECTIC, C18_LINE_A, C18_LINE_B,
             C18_LINE_C, C18_LINE_D):
    curve(ax4, line, lw=0.9)
marks(ax4, C18_CROSSES, size=12, face="#555555")
marks(ax4, C18_OPEN_SQ, marker="s", size=14, face="white", edge="#222222", lw=0.8)
marks(ax4, C18_DARK_SQ, marker="s", size=14, face="#444444", edge="#111111", lw=0.8)
marks(ax4, C18_DOTS, marker="o", size=10, face="#111111", edge="#111111")
finish(ax4, T4, C18_LEFT, C18_RIGHT, C18_BOTTOM, C18_NOTES, C18_POINTERS,
       tc="T (\u00b0C)", tk="T (", end_size=12)
title(1078, 258, ["C", "18", "-C", "20"])

# ---- C26-C28 ----
T6 = (30, 70)
ax6 = make_panel((1606, 1879, 49, 359), T6, 6)
region(ax6, C26_MDCI_LEFT, PURPLE, edge=False)
region(ax6, C26_MDCI_RIGHT, PURPLE, edge=False)
region(ax6, C26_PALE, PALE)
region(ax6, C26_YELLOW, YELLOW)
region(ax6, C26_OLIVE, OLIVE)
region(ax6, C26_OP_LEFT, ORANGE, edge=False)
region(ax6, C26_MDCP, CYAN, edge=False)
region(ax6, C26_OP_RIGHT, ORANGE, edge=False)
curve(ax6, C26_LIQUIDUS, lw=0.9)
curve(ax6, C26_YELLOW_TOP, lw=1.0, color="white", ls=":")
curve(ax6, C26_DASHDOT, lw=0.7, color="#555555", ls="-.")
marks(ax6, C26_CROSSES, size=10, face="#555555")
marks(ax6, C26_DARK, marker="o", size=9, face="#111111", edge="#111111")
marks(ax6, C26_OPEN_SQ, marker="s", size=12, face="white", edge="#333333", lw=0.7)
marks(ax6, C26_OPEN_TRI, marker=">", size=18, face="white", edge="#222222", lw=0.8)
finish(ax6, T6, C26_LEFT, C26_RIGHT, C26_BOTTOM, C26_NOTES, C26_POINTERS)
title(1723, 20, ["C", "26", "-C", "28"])

# ---- C22-C24 ----
T5 = (20, 60)
fig.patches.append(Rectangle((1309 / W, 1 - 480 / H), 8 / W, 380 / H, transform=fig.transFigure,
                             facecolor="white", edgecolor="none", zorder=6.5))
ax5 = make_panel((1317, 1589, 131, 436), T5, 7)
region(ax5, C22_SS_LEFT, GREEN, edge=False)
region(ax5, C22_SS_RIGHT, GREEN, edge=False)
pale_x, pale_t = xy(C22_LIQUIDUS + C22_RA_LOW[::-1])
ax5.fill(pale_x, pale_t, facecolor=PALE, edgecolor="none", zorder=1)
yel_x, yel_t = xy(C22_RA_LOW + C22_YELLOW_LOW[::-1] + C22_YELLOW_LEFT)
ax5.fill(yel_x, yel_t, facecolor=YELLOW, edgecolor="#333333", lw=0.5, zorder=1)
region(ax5, C22_OP_LEFT, ORANGE, edge=False)
region(ax5, C22_MDCP, CYAN, edge=False)
region(ax5, C22_OP_RIGHT, ORANGE, edge=False)
for line in (C22_LIQUIDUS, C22_RA_LOW, C22_YELLOW_LOW, C22_LOWER, C22_LINE_A):
    curve(ax5, line, lw=0.9)
curve(ax5, C22_DASHDOT, lw=0.7, color="#444444", ls="-.")
marks(ax5, C22_CROSSES, size=10, face="#333333")
marks(ax5, C22_OPEN_SQ, marker="s", size=14, face="white", edge="#333333", lw=0.7)
marks(ax5, C22_DOTS, marker="o", size=10, face="#111111", edge="#111111")
finish(ax5, T5, C22_LEFT, C22_RIGHT, C22_BOTTOM, C22_NOTES, C22_POINTERS,
       tc="T (\u00b0C)", tk="T (K", end_size=9)
title(1422, 108, ["C", "22", "-C", "24"])

fig.savefig("out.png", dpi=DPI)
